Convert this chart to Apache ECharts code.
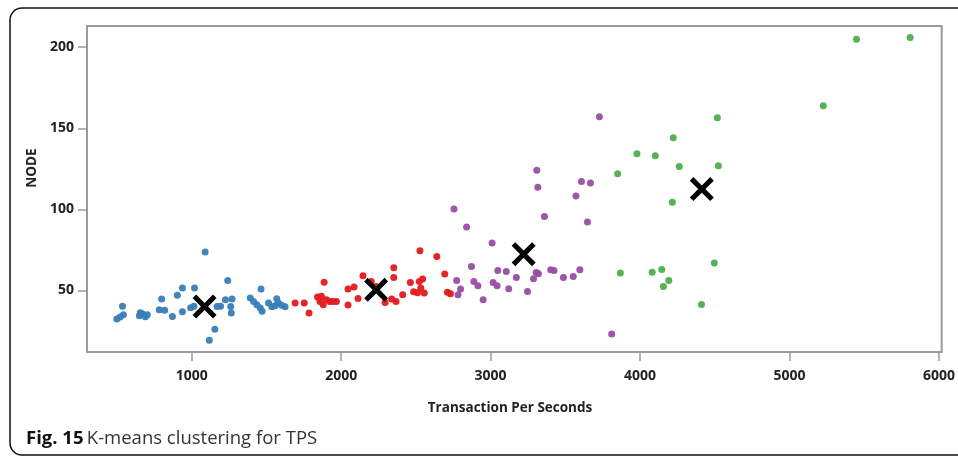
<!DOCTYPE html>
<html>
<head>
<meta charset="utf-8">
<script src="https://cdn.jsdelivr.net/npm/echarts@6/dist/echarts.min.js"></script>
<style>html,body{margin:0;padding:0;background:#fff}#c{width:958px;height:458px}</style>
</head>
<body>
<div id="c"></div>
<script>
// Cluster 1 (blue): [TPS, NODE]
const cluster1 = [
  [499,32.4],[521,33.6],[543,35],[537,40.3],[650,34.4],[670,35.6],[690,33.8],[656,36.3],[703,35],
  [783,38.1],[819,37.8],[799,44.7],[871,34],[904,47],[938,51.5],[938,36.9],[1019,51.5],[993,39.3],
  [1015,40.3],[1090,73.7],[1170,40.1],[1193,40.3],[1155,26.1],[1118,19.3],[1241,56.2],[1226,44.3],
  [1270,44.7],[1261,40.1],[1265,36.1],[1392,45.3],[1414,43.2],[1436,41.2],[1459,39.1],[1471,37.2],
  [1464,50.9],[1514,42.2],[1536,40],[1558,40.6],[1569,44.9],[1580,42.2],[1602,40.9],[1625,40]
];
// Cluster 2 (red)
const cluster2 = [
  [1692,42.2],[1753,42.2],[1785,36.1],[1886,55.1],[1842,45.9],[1858,43.2],[1868,46.4],[1880,41.2],
  [1902,44.3],[1924,43.2],[1946,43.2],[1968,43.2],[2046,41],[2046,50.9],[2086,52.1],[2113,45.1],
  [2146,59.1],[2201,55.5],[2234,52.5],[2294,42.6],[2352,64],[2352,58],[2338,44.7],[2367,43.2],
  [2412,47.3],[2463,54.9],[2485,49.2],[2511,48.6],[2523,55.5],[2533,51.5],[2545,57],[2556,48.4],
  [2527,74.5],[2640,71],[2693,60.1],[2711,48.9],[2731,48]
];
// Cluster 3 (purple)
const cluster3 = [
  [3728,157.1],[3309,124.2],[3316,113.7],[3608,117.2],[3668,116.2],[3571,108.2],[3360,95.6],
  [3648,92.2],[2755,100.2],[2839,89.1],[3010,79.2],[2872,64.8],[3048,62.3],[3105,61.7],[3172,58],
  [3305,61.1],[3320,60.3],[3287,57.2],[3402,62.8],[3424,62.3],[3487,58],[3553,58.6],[3597,62.8],
  [2773,56.2],[2799,50.9],[2782,47.3],[2888,55.5],[2915,52.9],[3017,54.9],[3043,52.9],[3121,51],
  [2950,44.3],[3247,49.4],[3810,23.1]
];
// Cluster 4 (green)
const cluster4 = [
  [5448,205],[5807,206],[5226,163.9],[4517,156.5],[4222,144.2],[3979,134.3],[4102,133],[3850,121.9],
  [4262,126.4],[4524,126.9],[4216,104.4],[3868,60.7],[4081,61.3],[4145,62.9],[4192,56.2],[4156,52.5],
  [4497,66.9],[4411,41.4]
];
// Centroids
const centroids = [[1086,40.1],[2234,50.4],[3221,72.4],[4413,112.5]];

const xTicks = [1000,2000,3000,4000,5000,6000];
const yTicks = [50,100,150,200];

const clusterColors = ['#377eb8','#e41a1c','#984ea3','#4daf4a'];
const clusters = [cluster1, cluster2, cluster3, cluster4];

const xPath = 'path://M0,1.5 L1.5,0 L5,3.5 L8.5,0 L10,1.5 L6.5,5 L10,8.5 L8.5,10 L5,6.5 L1.5,10 L0,8.5 L3.5,5 Z';

const chart = echarts.init(document.getElementById('c'), null, {renderer:'canvas'});
const series = clusters.map((d,i)=>({
  type:'scatter', data:d, symbol:'circle', symbolSize:7,
  itemStyle:{color:clusterColors[i], opacity:0.95}, z:2
}));
series.push({
  type:'scatter', data:centroids, symbol:xPath, symbolSize:24,
  itemStyle:{color:'#000', opacity:1}, z:5
});

chart.setOption({
  animation:false,
  backgroundColor:'#fff',
  grid:{left:87, top:26, right:10, bottom:106, show:true, borderColor:'#9a9a9a', borderWidth:2, backgroundColor:'transparent'},
  xAxis:{
    type:'value', min:299.5, max:6018,
    splitLine:{show:false},
    axisLine:{show:true, lineStyle:{color:'#9a9a9a', width:2}},
    axisTick:{show:true, length:9, lineStyle:{color:'#9a9a9a', width:1.5}, customValues:xTicks},
    axisLabel:{customValues:xTicks, formatter:v=>String(v), margin:17, color:'#222', fontFamily:'Open Sans', fontWeight:'bold', fontSize:14}
  },
  yAxis:{
    type:'value', min:12.04, max:213.1,
    splitLine:{show:false},
    axisLine:{show:true, lineStyle:{color:'#9a9a9a', width:2}},
    axisTick:{show:true, length:9, lineStyle:{color:'#9a9a9a', width:1.5}, customValues:yTicks},
    axisLabel:{customValues:yTicks, formatter:v=>String(v), margin:13, color:'#222', fontFamily:'Open Sans', fontWeight:'bold', fontSize:14}
  },
  series:series,
  graphic:[
    {type:'rect', shape:{x:10, y:8, width:980, height:447, r:12}, style:{fill:'none', stroke:'#111', lineWidth:1.5}, z:0, silent:true},
    {type:'text', x:510, y:408, style:{text:'Transaction Per Seconds', fill:'#222', font:'bold 13.5px "Open Sans"', textAlign:'center', textVerticalAlign:'middle'}},
    {type:'text', x:32, y:168, rotation:Math.PI/2, style:{text:'NODE', fill:'#222', font:'bold 13.5px "Open Sans"', textAlign:'center', textVerticalAlign:'middle'}},
    {type:'text', x:26, y:439, style:{
      text:'{b|Fig. 15} {r|K-means clustering for TPS}',
      textVerticalAlign:'middle',
      rich:{
        b:{fill:'#111', font:'bold 18.5px "Open Sans"'},
        r:{fill:'#333', font:'18.5px "Open Sans"'}
      }
    }}
  ]
});
</script>
</body>
</html>
